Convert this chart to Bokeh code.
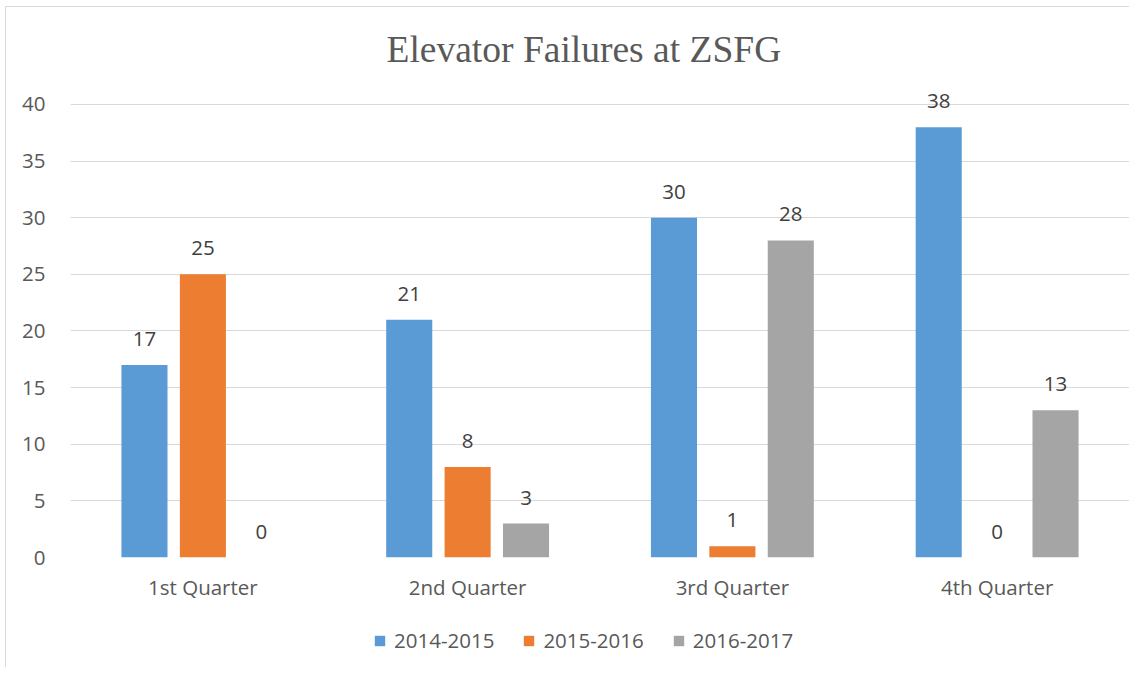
from bokeh.plotting import figure
from bokeh.layouts import column
from bokeh.models import ColumnDataSource, FactorRange, FixedTicker, Legend, LegendItem, Range1d
from bokeh.transform import dodge
from bokeh.embed import file_html
from bokeh.resources import INLINE

quarters = ["1st Quarter", "2nd Quarter", "3rd Quarter", "4th Quarter"]
series_names = ["2014-2015", "2015-2016", "2016-2017"]
s2014 = [17, 21, 30, 38]
s2015 = [25, 8, 1, 0]
s2016 = [0, 3, 28, 13]
colors = ["#5B9BD5", "#ED7D31", "#A5A5A5"]
y_ticks = [0, 5, 10, 15, 20, 25, 30, 35, 40]

FONT = "Open Sans"
FS = "20.5px"

p = figure(x_range=FactorRange(*quarters, range_padding=0), y_range=Range1d(0, 41.5),
           width=1123, height=610, output_backend="svg", toolbar_location=None,
           min_border_left=64, min_border_right=0, min_border_top=80, min_border_bottom=60)

p.title.text = "Elevator Failures at ZSFG"
p.title.text_font = "Liberation Serif"
p.title.text_font_size = "37.5px"
p.title.text_font_style = "normal"
p.title.text_color = "#595959"
p.title.align = "left"
p.title.offset = 316
p.title.standoff = 35

src = ColumnDataSource(dict(q=quarters, a=s2014, b=s2015, c=s2016,
                            la=[str(v) for v in s2014], lb=[str(v) for v in s2015], lc=[str(v) for v in s2016]))
offsets = [-0.2206, 0.0, 0.2206]
keys = ["a", "b", "c"]
for key, lab, off, col in zip(keys, ["la", "lb", "lc"], offsets, colors):
    p.vbar(x=dodge("q", off, range=p.x_range), top=key, width=0.174, source=src,
           fill_color=col, line_color=None)
    p.text(x=dodge("q", off, range=p.x_range), y=key, text=lab, source=src,
           text_align="center", text_baseline="alphabetic", y_offset=-26,
           text_font_size=FS, text_color="#404040", text_font={"value": FONT})

p.xgrid.visible = False
p.ygrid.grid_line_color = "#d9d9d9"
p.ygrid.grid_line_width = 1
p.yaxis.ticker = FixedTicker(ticks=y_ticks)
for ax in (p.xaxis, p.yaxis):
    ax.axis_line_color = None
    ax.major_tick_line_color = None
    ax.minor_tick_line_color = None
    ax.major_label_text_font = FONT
    ax.major_label_text_font_size = FS
    ax.major_label_text_color = "#595959"
p.yaxis.major_label_standoff = 19
p.xaxis.major_label_standoff = 9
p.outline_line_color = None

# legend strip below the chart (its zero-height bars lie outside its visible range)
p2 = figure(width=1123, height=50, output_backend="svg", toolbar_location=None,
            x_range=FactorRange(*quarters, range_padding=0), y_range=Range1d(1000, 1001),
            x_axis_location=None, y_axis_location=None,
            min_border_left=0, min_border_right=0, min_border_top=0, min_border_bottom=0)
p2.grid.visible = False
p2.outline_line_color = None
items = []
for key, off, col, name in zip(keys, offsets, colors, series_names):
    r = p2.vbar(x=dodge("q", off, range=p2.x_range), top=key, bottom=key, width=0.174, source=src,
                fill_color=col, line_color=None)
    items.append(LegendItem(label=name, renderers=[r]))
legend = Legend(items=items, orientation="horizontal", location=(303, 13),
                label_text_font=FONT, label_text_font_size=FS, label_text_color="#595959",
                glyph_width=13, glyph_height=13, label_standoff=8, spacing=28,
                border_line_color=None, background_fill_alpha=0, margin=0, padding=4)
p2.add_layout(legend)

layout = column(p, p2, spacing=0,
                styles={"margin-left": "5px", "margin-top": "6px",
                        "border-left": "1px solid #d9d9d9", "border-top": "1px solid #d9d9d9"})

open("out.html", "w").write(file_html(layout, INLINE))
